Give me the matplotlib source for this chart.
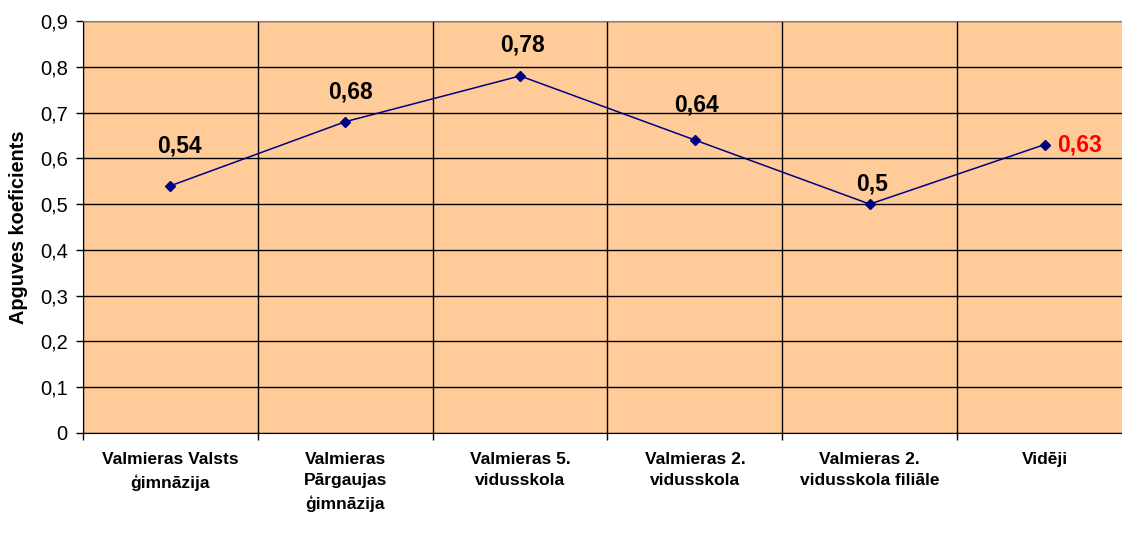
import matplotlib.pyplot as plt
import numpy as np

plt.rcParams['font.family'] = ['Liberation Sans', 'DejaVu Sans']

# data
schools = ['Valmieras Valsts\nģimnāzija', 'Valmieras\nPārgaujas\nģimnāzija',
           'Valmieras 5.\nvidusskola', 'Valmieras 2.\nvidusskola',
           'Valmieras 2.\nvidusskola filiāle', 'Vidēji']
values = [0.54, 0.68, 0.78, 0.64, 0.5, 0.63]
label_texts = ['0,54', '0,68', '0,78', '0,64', '0,5', '0,63']
yticks = [0, 0.1, 0.2, 0.3, 0.4, 0.5, 0.6, 0.7, 0.8, 0.9]
ytick_labels = ['0', '0,1', '0,2', '0,3', '0,4', '0,5', '0,6', '0,7', '0,8', '0,9']

# label offsets in pixels (dx, dy), as placed in the original
label_offsets = [(9, 40), (5, 30), (2, 31), (2, 35), (2, 20), (13, 0)]

fig = plt.figure(figsize=(11.22, 5.34), dpi=100)
ax = fig.add_axes([83 / 1122, 101 / 534, 1049 / 1122, 412 / 534])
ax.set_facecolor('#FFCC99')

x = np.arange(len(values)) + 0.5
ax.plot(x, values, color='#000080', lw=1.1, marker='D', ms=5, zorder=3)

px = 72 / 100
for i, (xi, v, t) in enumerate(zip(x, values, label_texts)):
    dx, dy = label_offsets[i]
    if i == len(values) - 1:
        ax.annotate(t, (xi, v), xytext=(dx * px, dy * px), textcoords='offset points',
                    ha='left', va='center', fontsize=16.5, fontweight='bold', color='red')
    else:
        ax.annotate(t, (xi, v), xytext=(dx * px, dy * px), textcoords='offset points',
                    ha='center', va='center', fontsize=16.5, fontweight='bold', color='black')

ax.set_xlim(0, 6)
ax.set_ylim(0, 0.9)
ax.set_yticks(yticks)
ax.set_yticklabels(ytick_labels, fontsize=14.5)
ax.set_xticks(x)
ax.set_xticklabels(schools, fontsize=12.5, fontweight='bold', va='top', linespacing=1.5)
ax.set_xticks(np.arange(0, 7), minor=True)
ax.tick_params(axis='x', which='major', length=0, pad=14)
ax.tick_params(axis='x', which='minor', length=5, width=1, direction='out')
ax.tick_params(axis='y', length=5, width=1, direction='out', pad=6)

ax.grid(True, axis='y', which='major', color='black', lw=1)
ax.grid(True, axis='x', which='minor', color='black', lw=1)
ax.grid(False, axis='x', which='major')
ax.set_axisbelow(True)

ax.spines['top'].set_color('#808080')
ax.spines['right'].set_visible(False)
ax.spines['left'].set_color('black')
ax.spines['bottom'].set_color('black')

ax.set_ylabel('Apguves koeficients', fontsize=14.3, fontweight='bold')
ax.yaxis.set_label_coords(-55 / 1049, 0.5)

fig.savefig('out.png', dpi=100)
